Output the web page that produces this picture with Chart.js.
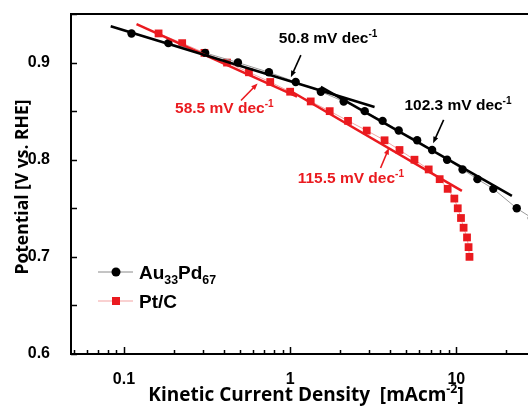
<!DOCTYPE html>
<html>
<head>
<meta charset="utf-8">
<script src="https://cdn.jsdelivr.net/npm/chart.js@4.4.0/dist/chart.umd.min.js"></script>
<style>
  html, body { margin: 0; padding: 0; background: #fff; }
  #chart { display: block; }
</style>
</head>
<body>
<canvas id="chart" width="528" height="408"></canvas>
<script>
// Au33Pd67 (black circles)
const auX = [0.111, 0.185, 0.308, 0.485, 0.745, 1.08, 1.53, 2.10, 2.81, 3.60, 4.5, 5.81, 7.15, 8.80, 10.9, 13.4, 16.7, 23.1, 28.5]
const auY = [0.93, 0.92, 0.91, 0.90, 0.89, 0.88, 0.87, 0.86, 0.85, 0.84, 0.83, 0.82, 0.81, 0.80, 0.79, 0.78, 0.77, 0.75, 0.74]

// Pt/C (red squares)
const ptX = [0.1615, 0.224, 0.305, 0.417, 0.565, 0.759, 1.0, 1.33, 1.73, 2.23, 2.89, 3.70, 4.55, 5.60, 6.82, 7.94, 8.87, 9.73, 10.2, 10.67, 11.06, 11.6, 11.85, 12.0]
const ptY = [0.93, 0.92, 0.91, 0.90, 0.89, 0.88, 0.87, 0.86, 0.85, 0.84, 0.83, 0.82, 0.81, 0.80, 0.79, 0.78, 0.77, 0.76, 0.75, 0.74, 0.73, 0.72, 0.71, 0.70]

// Tafel fit lines [x0, x1], [y0, y1]
const fitAuLowX = [0.0832, 3.22]
const fitAuLowY = [0.9374, 0.8542]
const fitAuHighX = [1.53, 21.6]
const fitAuHighY = [0.875, 0.7627]
const fitPtLowX = [0.119, 1.1]
const fitPtLowY = [0.9395, 0.865]
const fitPtHighX = [1.0, 10.8]
const fitPtHighY = [0.871, 0.768]

// slope labels: text, left x, baseline y, arrow from/to
const slopeText = ["50.8 mV dec", "102.3 mV dec", "58.5 mV dec", "115.5 mV dec"]
const slopeLabelX = [0.855, 4.87, 0.203, 1.11]
const slopeLabelY = [0.920, 0.851, 0.848, 0.776]
const arrowFromX = [1.16, 8.39, 0.506, 3.50]
const arrowFromY = [0.9076, 0.841, 0.861, 0.7915]
const arrowToX = [1.01, 7.25, 0.637, 3.93]
const arrowToY = [0.885, 0.817, 0.8785, 0.812]

// axes
const xMin = 0.048, xMax = 27
const yMin = 0.6, yMax = 0.95
const xMajor = [0.1, 1, 10]
const xMinor = [0.05, 0.06, 0.07, 0.08, 0.09, 0.2, 0.3, 0.4, 0.5, 0.6, 0.7, 0.8, 0.9, 2, 3, 4, 5, 6, 7, 8, 9, 20]
const yTickVals = [0.6, 0.65, 0.7, 0.75, 0.8, 0.85, 0.9, 0.95]

const BLACK = "#000000"
const RED = "#ea1a1f"
const ARIAL = "'Liberation Sans', Arial, sans-serif"

function pts(xs, ys){
    return xs.map((x, i) => ({x: x, y: ys[i]}))
}

function fitSet(xs, ys, color){
    return {
        data: pts(xs, ys),
        showLine: true,
        borderColor: color,
        borderWidth: 2.5,
        pointRadius: 0,
        fill: false
    }
}

function drawArrow(ctx, x0, y0, x1, y1, color){
    const ang = Math.atan2(y1 - y0, x1 - x0)
    const head = 7
    ctx.save()
    ctx.strokeStyle = color
    ctx.fillStyle = color
    ctx.lineWidth = 1.6
    ctx.beginPath()
    ctx.moveTo(x0, y0)
    ctx.lineTo(x1 - Math.cos(ang) * head * 0.8, y1 - Math.sin(ang) * head * 0.8)
    ctx.stroke()
    ctx.beginPath()
    ctx.moveTo(x1, y1)
    ctx.lineTo(x1 - head * Math.cos(ang - 0.38), y1 - head * Math.sin(ang - 0.38))
    ctx.lineTo(x1 - head * Math.cos(ang + 0.38), y1 - head * Math.sin(ang + 0.38))
    ctx.closePath()
    ctx.fill()
    ctx.restore()
}

// text with sub/superscript parts: [text, shift] shift: 0 normal, 1 super, -1 sub
function drawRich(ctx, parts, x, y, size, family, color){
    ctx.save()
    ctx.fillStyle = color
    ctx.textAlign = "left"
    ctx.textBaseline = "alphabetic"
    let cx = x
    parts.forEach(p => {
        const s = p[1] === 0 ? size : size * 0.65
        ctx.font = `bold ${s}px ${family}`
        const dy = p[1] === 1 ? -size * 0.42 : (p[1] === -1 ? size * 0.28 : 0)
        ctx.fillText(p[0], cx, y + dy)
        cx += ctx.measureText(p[0]).width
    })
    ctx.restore()
    return cx - x
}

const decorPlugin = {
    id: "decor",
    afterDatasetsDraw(chart){
        const ctx = chart.ctx
        const xs = chart.scales.x
        const ys = chart.scales.y
        const a = chart.chartArea

        // frame
        ctx.save()
        ctx.strokeStyle = BLACK
        ctx.lineWidth = 2
        ctx.beginPath()
        ctx.moveTo(a.right + 2, a.top)
        ctx.lineTo(a.left, a.top)
        ctx.lineTo(a.left, a.bottom)
        ctx.lineTo(a.right + 2, a.bottom)
        ctx.stroke()

        // inward ticks
        ctx.lineWidth = 1.5
        ctx.beginPath()
        yTickVals.forEach(v => {
            const py = Math.round(ys.getPixelForValue(v)) + 0.5
            ctx.moveTo(a.left, py)
            ctx.lineTo(a.left + 6, py)
        })
        xMajor.forEach(v => {
            const px = Math.round(xs.getPixelForValue(v)) + 0.5
            ctx.moveTo(px, a.bottom)
            ctx.lineTo(px, a.bottom - 7)
        })
        xMinor.forEach(v => {
            const px = Math.round(xs.getPixelForValue(v)) + 0.5
            ctx.moveTo(px, a.bottom)
            ctx.lineTo(px, a.bottom - 4)
        })
        ctx.stroke()
        ctx.restore()

        // slope labels and arrows
        slopeText.forEach((t, i) => {
            const color = i < 2 ? BLACK : RED
            drawRich(ctx, [[t, 0], ["-1", 1]], xs.getPixelForValue(slopeLabelX[i]), ys.getPixelForValue(slopeLabelY[i]), 15.5, ARIAL, color)
            drawArrow(ctx,
                xs.getPixelForValue(arrowFromX[i]), ys.getPixelForValue(arrowFromY[i]),
                xs.getPixelForValue(arrowToX[i]), ys.getPixelForValue(arrowToY[i]), color)
        })

        // legend
        const lx0 = a.left + 27, lx1 = a.left + 62, lmid = a.left + 45
        const rows = [272, 301]
        ctx.save()
        ctx.lineWidth = 1
        ctx.strokeStyle = "#8a8a8a"
        ctx.beginPath(); ctx.moveTo(lx0, rows[0]); ctx.lineTo(lx1, rows[0]); ctx.stroke()
        ctx.strokeStyle = "#f3a3a3"
        ctx.beginPath(); ctx.moveTo(lx0, rows[1]); ctx.lineTo(lx1, rows[1]); ctx.stroke()
        ctx.fillStyle = BLACK
        ctx.beginPath(); ctx.arc(lmid, rows[0], 4.5, 0, Math.PI * 2); ctx.fill()
        ctx.fillStyle = RED
        ctx.fillRect(lmid - 4, rows[1] - 4, 8, 8)
        ctx.restore()
        drawRich(ctx, [["Au", 0], ["33", -1], ["Pd", 0], ["67", -1]], a.left + 68, rows[0] + 7, 19, ARIAL, BLACK)
        drawRich(ctx, [["Pt/C", 0]], a.left + 68, rows[1] + 7, 19, ARIAL, BLACK)

        // axis titles
        const tf = "'Open Sans', sans-serif"
        ctx.save()
        ctx.font = `bold 19px ${tf}`
        const main = "Kinetic Current Density  [mAcm"
        const w1 = ctx.measureText(main).width
        ctx.font = `bold 12.4px ${tf}`
        const w2 = ctx.measureText("-2").width
        ctx.font = `bold 19px ${tf}`
        const w3 = ctx.measureText("]").width
        const startX = 306 - (w1 + w2 + w3) / 2
        drawRich(ctx, [[main, 0], ["-2", 1], ["]", 0]], startX, 401, 19, tf, BLACK)
        ctx.restore()

        ctx.save()
        ctx.translate(28, 187)
        ctx.rotate(-Math.PI / 2)
        ctx.font = `bold 17.5px ${tf}`
        ctx.fillStyle = BLACK
        ctx.textAlign = "center"
        ctx.textBaseline = "alphabetic"
        ctx.fillText("Potential [V vs. RHE]", 0, 0)
        ctx.restore()
    }
}

function drawChart(target){
    const ctx = document.getElementById(target)
    return new Chart(ctx, {
        type: "scatter",
        data: {
            datasets: [
                fitSet(fitAuLowX, fitAuLowY, BLACK),
                fitSet(fitAuHighX, fitAuHighY, BLACK),
                fitSet(fitPtLowX, fitPtLowY, RED),
                fitSet(fitPtHighX, fitPtHighY, RED),
                {
                    label: "Au33Pd67",
                    data: pts(auX, auY),
                    showLine: true,
                    borderColor: "#9a9a9a",
                    borderWidth: 1,
                    pointStyle: "circle",
                    pointRadius: 4.2,
                    pointBackgroundColor: BLACK,
                    pointBorderColor: BLACK,
                    pointBorderWidth: 0
                },
                {
                    label: "Pt/C",
                    data: pts(ptX, ptY),
                    showLine: true,
                    borderColor: "#f3a3a3",
                    borderWidth: 1,
                    pointStyle: "rect",
                    pointRadius: 5.5,
                    pointBackgroundColor: RED,
                    pointBorderColor: RED,
                    pointBorderWidth: 0
                }
            ]
        },
        options: {
            responsive: false,
            animation: false,
            layout: { autoPadding: false, padding: { top: 14, right: 0, left: 0, bottom: 0 } },
            plugins: {
                legend: { display: false },
                tooltip: { enabled: false }
            },
            scales: {
                x: {
                    type: "logarithmic",
                    min: xMin,
                    max: xMax,
                    grid: { display: false },
                    border: { display: false },
                    afterFit: s => { s.height = 54; s.paddingLeft = 0; s.paddingRight = 0 },
                    ticks: {
                        autoSkip: false,
                        maxRotation: 0,
                        padding: 8,
                        color: BLACK,
                        font: { family: ARIAL, size: 16, weight: "bold" },
                        callback: v => {
                            const l = Math.log10(v)
                            if (Math.abs(l - Math.round(l)) > 1e-6) return ""
                            return v < 1 ? "0.1" : String(Math.round(v))
                        }
                    }
                },
                y: {
                    min: yMin,
                    max: yMax,
                    grid: { display: false },
                    border: { display: false },
                    afterFit: s => { s.width = 71; s.paddingTop = 0; s.paddingBottom = 0 },
                    ticks: {
                        stepSize: 0.05,
                        padding: 13,
                        color: BLACK,
                        font: { family: ARIAL, size: 16, weight: "bold" },
                        callback: v => {
                            const k = Math.round(v * 100)
                            return k % 10 === 0 ? (k / 100).toFixed(1) : ""
                        }
                    }
                }
            }
        },
        plugins: [decorPlugin]
    })
}

drawChart("chart")
</script>
</body>
</html>
